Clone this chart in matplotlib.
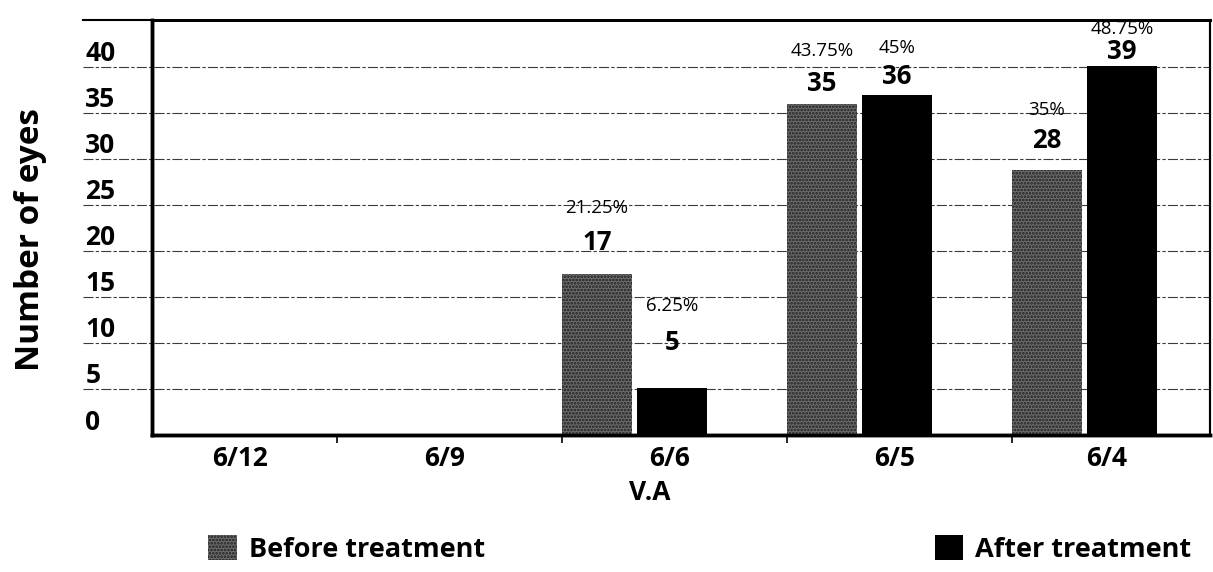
import matplotlib
matplotlib.use("Agg")
import matplotlib.pyplot as plt
import matplotlib.transforms as mtransforms
from matplotlib.patches import Patch

plt.rcParams['font.family'] = ['Open Sans', 'DejaVu Sans']
plt.rcParams['hatch.linewidth'] = 1.3

# data
categories = ['6/12', '6/9', '6/6', '6/5', '6/4']
before = [0, 0, 17, 35, 28]
after = [0, 0, 5, 36, 39]
total_eyes = 80
yticks = [0, 5, 10, 15, 20, 25, 30, 35, 40]

# label lift above bar tops (pixels): (count, percent)
lift_before = [(0, 0), (0, 0), (32, 66), (21, 53), (30, 60)]
lift_after = [(0, 0), (0, 0), (45, 82), (18, 47), (15, 37)]

fig = plt.figure(figsize=(12.13, 5.72), dpi=100)
ax_grid = fig.add_axes([152 / 1213, 1 - 435 / 572, 1058 / 1213, 415 / 572])
ax = ax_grid.twinx()
ax.set_zorder(ax_grid.get_zorder() + 1)
ax.patch.set_visible(False)

x_left, x_right = -0.822, 3.88
ax_grid.set_xlim(x_left, x_right)
ax.set_ylim(0, 43.9)
ax_grid.set_ylim(0, 45.1)

# grid lines running out under the tick labels
ext = -(152 - 83) / 1058
for y in yticks[1:]:
    ax_grid.axhline(y, xmin=ext, xmax=1, color='#3a3a3a', lw=0.8,
                    ls=(0, (9, 2, 3, 2)), clip_on=False, zorder=0)
ax_grid.plot([ext, 0], [1, 1], transform=ax_grid.transAxes, color='black',
             lw=1.5, clip_on=False)

# bars: each category owns one band starting at its index
starts = [i - 1 for i in range(len(categories))]
w = 0.31
bb = ax.bar(starts, before, width=w, align='edge',
            color='#6c6c6c', edgecolor='#1e1e1e', hatch='.....', lw=0)
ba = ax.bar([s + 0.335 for s in starts], after, width=w, align='edge',
            color='black', lw=0)

for bars, vals, lifts in ((bb, before, lift_before), (ba, after, lift_after)):
    for rect, v, (lc, lp) in zip(bars, vals, lifts):
        if v == 0:
            continue
        cx = rect.get_x() + rect.get_width() / 2
        ax.annotate(str(v), (cx, v), xytext=(0, lc), textcoords='offset pixels',
                    ha='center', va='center', fontsize=18.5, fontweight='bold')
        ax.annotate(f"{v / total_eyes * 100:g}%", (cx, v), xytext=(0, lp),
                    textcoords='offset pixels', ha='center', va='center',
                    fontsize=13.5)

# x ticks: labels at band centres, small marks at band borders
edges = [x_left, 0, 1, 2, 3, x_right]
centers = [(edges[i] + edges[i + 1]) / 2 - 0.02 for i in range(len(categories))]
ax_grid.set_xticks(centers)
ax_grid.set_xticklabels(categories, fontsize=19, fontweight='bold')
ax_grid.set_xticks([0, 1, 2, 3], minor=True)
ax_grid.tick_params(axis='x', which='major', length=0, pad=7)
ax_grid.tick_params(axis='x', which='minor', length=6, width=1.2, direction='out')
ax.set_yticks([])

# y ticks sitting just above their grid lines
ax_grid.set_yticks(yticks)
ax_grid.set_yticklabels([str(t) for t in yticks], fontsize=19, fontweight='bold')
ax_grid.tick_params(axis='y', length=0, pad=48)
shift = mtransforms.ScaledTranslation(0, 0.16, fig.dpi_scale_trans)
for lbl in ax_grid.get_yticklabels():
    lbl.set_ha('left')
    lbl.set_transform(lbl.get_transform() + shift)

ax_grid.set_ylabel('Number of eyes', fontsize=24, fontweight='bold')
ax_grid.yaxis.set_label_coords(-(152 - 47) / 1058, 0.47)
ax_grid.set_xlabel('V.A', fontsize=19, fontweight='bold')
ax_grid.xaxis.set_label_coords((650 - 152) / 1058, -0.105)

for a in (ax, ax_grid):
    a.spines['left'].set_linewidth(2.5)
    a.spines['bottom'].set_linewidth(2.5)
    a.spines['top'].set_linewidth(2)
    a.spines['right'].set_linewidth(1.5)

handles = [Patch(facecolor='#6c6c6c', edgecolor='#1e1e1e', hatch='.....', lw=0),
           Patch(facecolor='black', lw=0)]
fig.legend(handles, ['Before treatment', 'After treatment'], ncol=2,
           loc='center left', bbox_to_anchor=(184 / 1213, 1 - 549 / 572),
           frameon=False, handlelength=1.05, handleheight=1.05,
           handletextpad=0.45, columnspacing=16.6,
           prop={'size': 19.5, 'weight': 'bold'})

fig.savefig('out.png', dpi=100)
